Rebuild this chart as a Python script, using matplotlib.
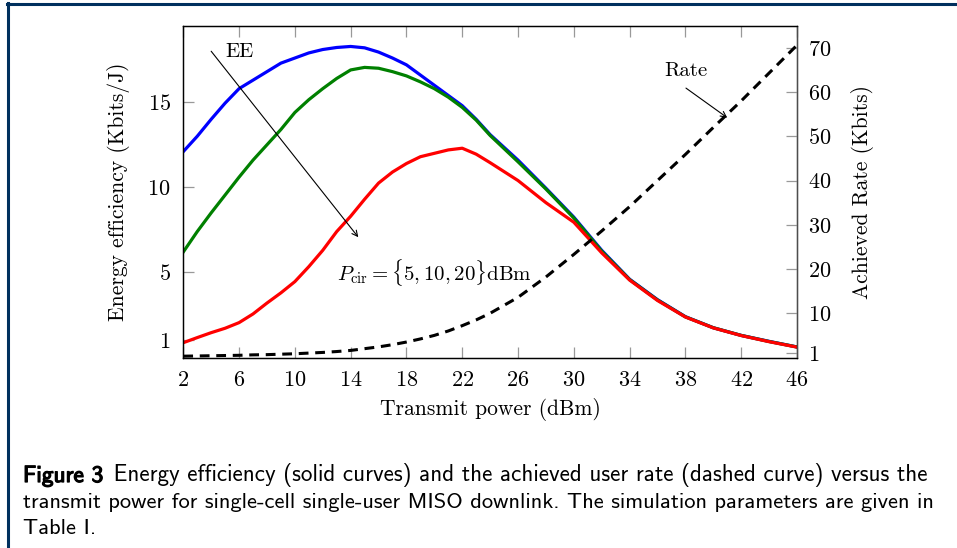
import matplotlib
matplotlib.use('Agg')
import matplotlib.pyplot as plt
import matplotlib.patheffects as pe
from matplotlib.lines import Line2D

plt.rcParams['font.family'] = 'cmr10'
plt.rcParams['mathtext.fontset'] = 'cm'
plt.rcParams['axes.unicode_minus'] = False
plt.rcParams['axes.formatter.use_mathtext'] = True

# transmit power (dBm)
power = [2, 3, 4, 5, 6, 7, 8, 9, 10, 11, 12, 13, 14, 15, 16, 17, 18, 19, 20, 21, 22, 23, 24,
         26, 28, 30, 32, 34, 36, 38, 40, 42, 44, 46]

# energy efficiency (Kbits/J) for P_cir = 5, 10, 20 dBm
ee_5 = [12.1, 13.0, 14.0, 14.95, 15.8, 16.3, 16.8, 17.3, 17.6, 17.9, 18.1, 18.22, 18.28,
        18.2, 17.95, 17.6, 17.2, 16.6, 16.0, 15.4, 14.8, 14.0, 13.1,
        11.6, 9.95, 8.25, 6.3, 4.6, 3.4, 2.4, 1.75, 1.3, 0.95, 0.62]
ee_10 = [6.2, 7.4, 8.5, 9.55, 10.6, 11.6, 12.5, 13.4, 14.4, 15.15, 15.8, 16.4, 16.9,
         17.05, 17.0, 16.8, 16.55, 16.2, 15.8, 15.3, 14.7, 13.95, 13.05,
         11.5, 9.9, 8.2, 6.25, 4.58, 3.38, 2.39, 1.75, 1.3, 0.94, 0.62]
ee_20 = [0.87, 1.17, 1.46, 1.72, 2.05, 2.56, 3.2, 3.8, 4.46, 5.34, 6.3, 7.4, 8.3,
         9.3, 10.25, 10.9, 11.4, 11.8, 12.0, 12.2, 12.3, 11.95, 11.45,
         10.4, 9.1, 7.95, 6.15, 4.55, 3.35, 2.38, 1.74, 1.29, 0.93, 0.61]

# achieved rate (Kbits)
rate = [0.3, 0.35, 0.4, 0.45, 0.5, 0.6, 0.65, 0.75, 0.85, 1.0, 1.15, 1.35, 1.6,
        2.0, 2.4, 2.9, 3.5, 4.2, 5.0, 6.0, 7.2, 8.5, 10.0,
        13.6, 18.2, 23.3, 28.6, 34.1, 40.0, 45.9, 52.0, 58.0, 64.3, 70.6]

xticks = list(range(2, 47, 4))
ee_ticks = [1, 5, 10, 15]
rate_ticks = [1, 10, 20, 30, 40, 50, 60, 70]

fig = plt.figure(figsize=(9.57, 5.48), dpi=100)
ax = fig.add_axes([0.1915, 0.3476, 0.6413, 0.6055])

ax.plot(power, ee_5, color=(0, 0, 1), lw=2.3)
ax.plot(power, ee_10, color=(0, 0.5, 0), lw=2.3)
ax.plot(power, ee_20, color=(1, 0, 0), lw=2.3)
ax.set_xlim(2, 46)
ax.set_ylim(0, 19.5)

ax2 = ax.twinx()
ax2.plot(power, rate, color='k', lw=2.2, ls=(0, (3.2, 2.2)))
ax2.set_ylim(0, 75)

ax.set_xticks(xticks)
ax.set_yticks(ee_ticks)
ax2.set_yticks(rate_ticks)
ax.tick_params(direction='in', length=8, width=0.9, color='0.6', labelsize=16,
               pad=9, top=True, right=False)
ax2.tick_params(direction='in', length=8, width=0.9, color='0.6', labelsize=16, pad=8)
for sp in ax.spines.values():
    sp.set_linewidth(0.9)
for sp in ax2.spines.values():
    sp.set_linewidth(0.9)
ax2.spines['right'].set_color('0.3')

ax.set_xlabel('Transmit power (dBm)', fontsize=15.5)
ax.xaxis.set_label_coords(0.5, -0.122)
ax.set_ylabel('Energy efficiency (Kbits/J)', fontsize=15.5)
ax.yaxis.set_label_coords(-0.087, 0.5)
ax2.set_ylabel('Achieved Rate (Kbits)', fontsize=15.5)
ax2.yaxis.set_label_coords(1.088, 0.5)

# annotations
ax.text(6.0, 17.97, 'EE', fontsize=15, ha='center', va='center')
ax.annotate('', xy=(14.55, 7.07), xytext=(4.0, 18.0),
            arrowprops=dict(arrowstyle='->', lw=0.8, color='k', shrinkA=0, shrinkB=0))
ax.text(20.0, 5.0, r'$P_{\mathrm{cir}} = \{5, 10, 20\}$dBm', fontsize=15,
        ha='center', va='center')
ax2.text(38.0, 64.8, 'Rate', fontsize=15, ha='center', va='center')
ax2.annotate('', xy=(41.0, 54.2), xytext=(38.04, 60.9),
             arrowprops=dict(arrowstyle='->', lw=0.8, color='k', shrinkA=0, shrinkB=0))

# frame lines
navy = '#00305e'
fig.add_artist(Line2D([7.5 / 957, 1.0], [1 - 4 / 548, 1 - 4 / 548], color=navy, lw=2.2,
                      transform=fig.transFigure))
fig.add_artist(Line2D([8 / 957, 8 / 957], [0.0, 1 - 3 / 548], color=navy, lw=2.2,
                      transform=fig.transFigure))

# caption
t1 = fig.text(23 / 957, 1 - 487 / 548, 'Figure 3', fontsize=16.8, family='cmss10',
              va='bottom', path_effects=[pe.withStroke(linewidth=0.9, foreground='k')])
plt.annotate(' Energy efficiency (solid curves) and the achieved user rate (dashed curve) versus the',
             xy=(1, 0), xycoords=t1, xytext=(2, 0), textcoords='offset points',
             fontsize=16.6, family='cmss10', va='bottom', ha='left',
             annotation_clip=False)
fig.text(23 / 957, 1 - 512.5 / 548,
         'transmit power for single-cell single-user MISO downlink. The simulation parameters are given in',
         fontsize=16.2, family='cmss10', va='bottom')
fig.text(23 / 957, 1 - 538 / 548, 'Table I.', fontsize=16.2, family='cmss10', va='bottom')

fig.savefig('out.png', dpi=100)
